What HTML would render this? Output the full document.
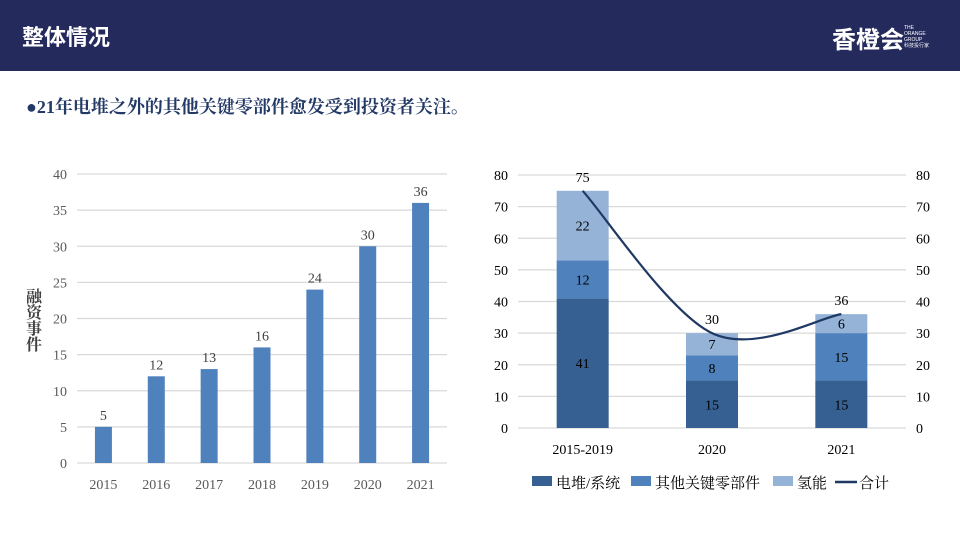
<!DOCTYPE html>
<html><head><meta charset="utf-8"><style>
body{margin:0;width:960px;height:540px;overflow:hidden;background:#fff;font-family:"Liberation Serif","Noto Serif CJK SC",serif;}
.hdr{position:absolute;left:0;top:0;width:960px;height:71px;background:#242a5b;}
.ttl{position:absolute;left:22px;top:20px;color:#fff;font:bold 22px "Liberation Sans","Noto Sans CJK SC",sans-serif;}
.sub{position:absolute;left:26px;top:93px;color:#243a66;font:bold 18px "Liberation Serif","Noto Serif CJK SC",serif;}
svg text{font-family:"Liberation Serif","Noto Serif CJK SC",serif;}
</style></head><body>
<div class="hdr">
<div class="ttl">整体情况</div>
<div style="position:absolute;left:832px;top:20px;color:#fff;font:bold 24px 'Noto Sans CJK SC',sans-serif;">香橙<span style="color:#fff">会</span></div>
<div style="position:absolute;left:904px;top:25px;color:#fff;font:5px 'Liberation Sans',sans-serif;line-height:6px;">THE<br>ORANGE<br>GROUP<br>科技投行家</div>
</div>
<div class="sub">●21年电堆之外的其他关键零部件愈发受到投资者关注。</div>
<svg id="c1" width="960" height="540" style="position:absolute;left:0;top:0"></svg>
<script>
const yearsL=["2015","2016","2017","2018","2019","2020","2021"];
const valsL=[5,12,13,16,24,30,36];
const ticksL=[0,5,10,15,20,25,30,35,40];
const catsR=["2015-2019","2020","2021"];
const stackA=[41,15,15];
const stackB=[12,8,15];
const stackC=[22,7,6];
const totals=[75,30,36];
const ticksR=[0,10,20,30,40,50,60,70,80];
const NS="http://www.w3.org/2000/svg";
const svg=document.getElementById('c1');
function mk(t,a,txt){const e=document.createElementNS(NS,t);for(const k in a)e.setAttribute(k,a[k]);if(txt!==undefined)e.textContent=txt;svg.appendChild(e);return e;}
// left
const lx0=77,lx1=447,ly0=463,ly1=174,lmax=40;
const lY=v=>ly0-(ly0-ly1)*v/lmax;
const lbw=(lx1-lx0)/yearsL.length;
const lX=i=>lx0+lbw*(i+0.5);
ticksL.forEach(t=>{
let g=mk('line',{x1:lx0,x2:lx1,y1:lY(t),y2:lY(t),stroke:'#d9d9d9','stroke-width':1.3});

let tx=mk('text',{x:67,y:lY(t)+5,'text-anchor':'end','font-size':14,fill:'#595959'},t);

});
yearsL.forEach((y,i)=>{
let r=mk('rect',{x:lX(i)-8.5,y:lY(valsL[i]),width:17,height:lY(0)-lY(valsL[i]),fill:'#4f81bd'});

let l=mk('text',{x:lX(i),y:lY(valsL[i])-7,'text-anchor':'middle','font-size':14,fill:'#404040'},valsL[i]);

let x=mk('text',{x:lX(i),y:489,'text-anchor':'middle','font-size':14,fill:'#595959'},y);

});
["融","资","事","件"].forEach((c,i)=>{let t=mk('text',{x:34,y:302+i*16,'text-anchor':'middle','font-size':16,'font-weight':'bold',fill:'#404040','font-family':'Noto Sans CJK SC,sans-serif'},c);
});
// right
const rx0=518,rx1=906,ry0=428,ry1=175,rmax=80;
const rY=v=>ry0-(ry0-ry1)*v/rmax;
const rbw=(rx1-rx0)/catsR.length;
const rX=i=>rx0+rbw*(i+0.5);
ticksR.forEach(t=>{
let g=mk('line',{x1:rx0,x2:rx1,y1:rY(t),y2:rY(t),stroke:'#d9d9d9','stroke-width':1.3});

let a=mk('text',{x:508,y:rY(t)+5,'text-anchor':'end','font-size':14,fill:'#000'},t);

let b=mk('text',{x:916,y:rY(t)+5,'text-anchor':'start','font-size':14,fill:'#000'},t);

});
const cols=['#366092','#4f81bd','#95b3d7'];
catsR.forEach((c,i)=>{
let base=0;
[stackA,stackB,stackC].forEach((s,k)=>{
const v=s[i];
let r=mk('rect',{x:rX(i)-26,y:rY(base+v),width:52,height:rY(base)-rY(base+v),fill:cols[k]});

let l=mk('text',{x:rX(i),y:(rY(base)+rY(base+v))/2+5,'text-anchor':'middle','font-size':14,fill:'#000'},v);

base+=v;});
let x=mk('text',{x:rX(i),y:454,'text-anchor':'middle','font-size':14,fill:'#000'},c);

});
const pts=totals.map((v,i)=>[rX(i),rY(v)]);
let d='M'+pts[0][0]+','+pts[0][1];
for(let i=0;i<pts.length-1;i++){
const p0=pts[Math.max(0,i-1)],p1=pts[i],p2=pts[i+1],p3=pts[Math.min(pts.length-1,i+2)];
const c1=[p1[0]+(p2[0]-p0[0])/6,p1[1]+(p2[1]-p0[1])/6],c2=[p2[0]-(p3[0]-p1[0])/6,p2[1]-(p3[1]-p1[1])/6];
d+=` C${c1[0]},${c1[1]} ${c2[0]},${c2[1]} ${p2[0]},${p2[1]}`;}
let ln=mk('path',{d:d,fill:'none',stroke:'#1f3864','stroke-width':2.2});

totals.forEach((v,i)=>{let t=mk('text',{x:rX(i),y:rY(v)-9,'text-anchor':'middle','font-size':14,fill:'#000'},v);
});
const leg=[['rect','#366092','电堆/系统',532],['rect','#4f81bd','其他关键零部件',631],['rect','#95b3d7','氢能',773],['line','#1f3864','合计',835]];
leg.forEach(([k,c,n,x])=>{
let s=k==='rect'?mk('rect',{x:x,y:476,width:20,height:10,fill:c}):mk('line',{x1:x,x2:x+22,y1:482,y2:482,stroke:c,'stroke-width':2.5});

let t=mk('text',{x:x+24,y:488,'font-size':15,fill:'#000','font-family':'Noto Sans CJK SC,sans-serif'},n);

});
</script>
</body></html>
